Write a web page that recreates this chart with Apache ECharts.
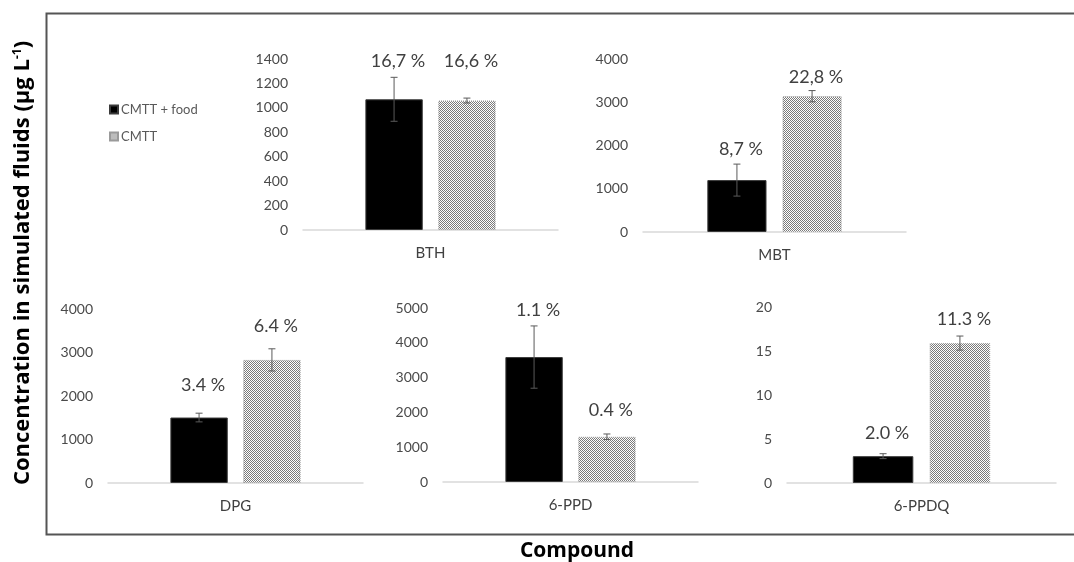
<!DOCTYPE html>
<html><head><meta charset="utf-8">
<script src="https://cdn.jsdelivr.net/npm/echarts@6/dist/echarts.min.js"></script>
<style>html,body{margin:0;padding:0;background:#fff}#c{width:1074px;height:562px}</style>
</head><body><div id="c"></div>
<script>
// ---- data ----
const compounds = ['BTH', 'MBT', 'DPG', '6-PPD', '6-PPDQ'];
const seriesNames = ['CMTT + food', 'CMTT'];
const foodValues = [1070, 1200, 1505, 3590, 3.05];
const foodErrors = [180, 370, 100, 895, 0.28];
const cmttValues = [1060, 3140, 2830, 1300, 15.9];
const cmttErrors = [20, 130, 255, 80, 0.8];
const foodLabels = ['16,7 %', '8,7 %', '3.4 %', '1.1 %', '2.0 %'];
const cmttLabels = ['16,6 %', '22,8 %', '6.4 %', '0.4 %', '11.3 %'];
const axisMax = [1400, 4000, 4000, 5000, 20];
const axisInterval = [200, 1000, 1000, 1000, 5];

// ---- layout / style ----
const FONT = 'Lato, "Open Sans", sans-serif';
const TITLE_FONT = '"Open Sans", Lato, sans-serif';
const grids = [
  {left: 303, top: 59, width: 255, height: 171},
  {left: 643, top: 59, width: 263, height: 173},
  {left: 108, top: 309, width: 255, height: 174},
  {left: 443, top: 308, width: 255, height: 174},
  {left: 787, top: 307, width: 269, height: 176}
];
const labelLift = [[16, 37], [15, 13], [28, 23], [16, 24], [21, 17]];
const BAR_W = 0.225, BAR_GAP = 0.27;

// dotted pattern
const pc = document.createElement('canvas');
pc.width = 2; pc.height = 2;
const pctx = pc.getContext('2d');
pctx.fillStyle = '#ffffff'; pctx.fillRect(0, 0, 2, 2);
pctx.fillStyle = '#7a7a7a'; pctx.fillRect(0, 0, 1, 1); pctx.fillRect(1, 1, 1, 1);
const dotted = {image: pc, repeat: 'repeat'};

const xAxes = [], yAxes = [], series = [];
compounds.forEach((c, k) => {
  xAxes.push({
    type: 'category', gridIndex: k, data: [c],
    axisLine: {lineStyle: {color: '#d9d9d9', width: 1.5}},
    axisTick: {show: false},
    axisLabel: {margin: 16, fontSize: 15, color: '#404040', fontFamily: FONT}
  });
  yAxes.push({
    type: 'value', gridIndex: k, min: 0, max: axisMax[k], interval: axisInterval[k],
    axisLine: {show: false}, axisTick: {show: false}, splitLine: {show: false},
    axisLabel: {margin: 15, fontSize: 14, color: '#4a4a4a', fontFamily: FONT,
                formatter: (v) => String(v)}
  });
  series.push({
    name: seriesNames[0], type: 'bar', xAxisIndex: k, yAxisIndex: k,
    data: [foodValues[k]], barWidth: (BAR_W * 100) + '%', barGap: (BAR_GAP * 100) + '%',
    itemStyle: {color: '#000', borderColor: '#3a3a3a', borderWidth: 1},
    emphasis: {disabled: true}
  });
  series.push({
    name: seriesNames[1], type: 'bar', xAxisIndex: k, yAxisIndex: k,
    data: [cmttValues[k]], barWidth: (BAR_W * 100) + '%', barGap: (BAR_GAP * 100) + '%',
    itemStyle: {color: dotted, borderColor: '#9a9a9a', borderWidth: 1, borderType: 'dotted'},
    emphasis: {disabled: true}
  });
  const labels = [foodLabels[k], cmttLabels[k]];
  series.push({
    type: 'custom', xAxisIndex: k, yAxisIndex: k, clip: false, z: 5, silent: true,
    data: [[0, foodValues[k], foodErrors[k]], [0, cmttValues[k], cmttErrors[k]]],
    renderItem: function (params, api) {
      const i = params.dataIndex;
      const v = api.value(1), e = api.value(2);
      const base = api.coord([0, v]);
      const band = api.size([1, 0])[0];
      const w = band * BAR_W, g = w * BAR_GAP;
      const total = 2 * w + g;
      const bx = base[0] - total / 2 + w / 2 + i * (w + g);
      const yHi = api.coord([0, v + e])[1];
      const yLo = api.coord([0, v - e])[1];
      const st = {stroke: '#5a5a5a', lineWidth: 1};
      const cap = 3.5;
      return {type: 'group', children: [
        {type: 'line', shape: {x1: bx, y1: yHi, x2: bx, y2: yLo}, style: st},
        {type: 'line', shape: {x1: bx - cap, y1: yHi, x2: bx + cap, y2: yHi}, style: st},
        {type: 'line', shape: {x1: bx - cap, y1: yLo, x2: bx + cap, y2: yLo}, style: st},
        {type: 'text', x: bx + 4, y: yHi - labelLift[k][i],
         style: {text: labels[i], fontSize: 18, fontFamily: FONT, fill: '#404040',
                 align: 'center', verticalAlign: 'middle'}}
      ]};
    }
  });
});

const chart = echarts.init(document.getElementById('c'), null, {renderer: 'canvas'});
chart.setOption({
  animation: false,
  backgroundColor: '#fff',
  textStyle: {fontFamily: FONT},
  grid: grids,
  xAxis: xAxes,
  yAxis: yAxes,
  series: series,
  legend: {
    data: seriesNames, orient: 'vertical', left: 104, top: 98,
    itemWidth: 8, itemHeight: 8, itemGap: 14, icon: 'rect',
    textStyle: {fontSize: 13, color: '#595959', fontFamily: FONT, padding: [0, 0, 0, -2]}
  },
  graphic: [
    {type: 'rect', shape: {x: 46.5, y: 13.5, width: 1100, height: 521},
     style: {fill: 'none', stroke: '#555555', lineWidth: 2}, silent: true},
    {type: 'text', x: 23, y: 263, rotation: Math.PI / 2,
     style: {text: 'Concentration in simulated fluids (µg L{sup|-1})',
             fontSize: 22, fontWeight: 'bold', fontFamily: TITLE_FONT, fill: '#000',
             align: 'center', verticalAlign: 'middle',
             rich: {sup: {fontSize: 12, fontWeight: 'bold', fontFamily: TITLE_FONT, fill: '#000', verticalAlign: 'top', padding: [0, 0, 10, 0]}}}},
    {type: 'text', x: 577, y: 551,
     style: {text: 'Compound', fontSize: 21, fontWeight: 'bold', fontFamily: TITLE_FONT, fill: '#000',
             align: 'center', verticalAlign: 'middle'}}
  ]
});
</script></body></html>
